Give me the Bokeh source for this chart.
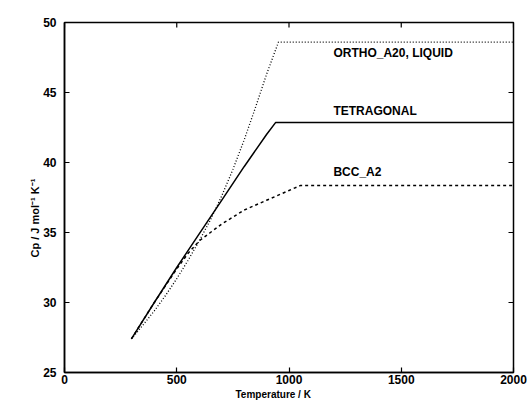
import math
from bokeh.plotting import figure
from bokeh.models import Range1d, FixedTicker, Title
from bokeh.embed import file_html
from bokeh.resources import INLINE

# Data (Temperature / K, Cp / J mol-1 K-1)
tetra_T = [298, 400, 500, 600, 700, 800, 900, 940, 2000]
tetra_cp = [27.4, 30.0, 32.5, 34.9, 37.3, 39.7, 42.0, 42.85, 42.85]

ortho_T = [298, 350, 400, 450, 500, 550, 600, 650, 700, 750, 800, 850, 900, 953, 2000]
ortho_cp = [27.4, 28.4, 29.4, 30.5, 31.7, 33.0, 34.4, 35.9, 37.6, 39.5, 41.6, 43.9, 46.3, 48.6, 48.6]

bcc_T = [298, 400, 500, 550, 600, 650, 700, 800, 900, 1000, 1050, 2000]
bcc_cp = [27.4, 30.0, 32.4, 33.5, 34.4, 35.0, 35.6, 36.6, 37.3, 38.0, 38.35, 38.35]

x_ticks = [0, 500, 1000, 1500, 2000]
y_ticks = [25, 30, 35, 40, 45, 50]

labels = ["ORTHO_A20, LIQUID", "TETRAGONAL", "BCC_A2"]
label_T = [1198, 1198, 1198]
label_cp = [47.8, 43.7, 39.3]

x_title = "Temperature / K"
y_title = "Cp / J mol\u207b\u00b9 K\u207b\u00b9"

FONT = "Liberation Sans"
x_min, x_max = 0, 2000
y_min, y_max = 25, 50

p = figure(width=527, height=408, output_backend="svg", toolbar_location=None,
           x_range=Range1d(x_min, x_max), y_range=Range1d(y_min, y_max),
           min_border_left=64, min_border_right=14, min_border_top=22, min_border_bottom=36)
p.background_fill_color = "white"
p.border_fill_color = "white"
p.xgrid.visible = False
p.ygrid.visible = False
p.outline_line_color = "black"
p.outline_line_width = 1.5

for ax in (p.xaxis[0], p.yaxis[0]):
    ax.axis_line_width = 1.5
    ax.major_tick_in = 5
    ax.major_tick_out = 0
    ax.minor_tick_line_color = None
    ax.major_tick_line_width = 1.2
    ax.major_label_text_font = FONT
    ax.major_label_text_font_style = "bold"
    ax.major_label_text_font_size = "12px"
    ax.major_label_text_color = "black"
p.xaxis[0].ticker = FixedTicker(ticks=x_ticks)
p.yaxis[0].ticker = FixedTicker(ticks=y_ticks)
p.xaxis[0].major_label_standoff = 2
p.yaxis[0].major_label_standoff = 8

# axis titles (placed off-centre as in the reference)
p.add_layout(Title(text=x_title, align="left", offset=171, standoff=0,
                   text_font=FONT, text_font_style="bold", text_font_size="10px",
                   text_color="black"), "below")
p.add_layout(Title(text=y_title, align="left", offset=115, standoff=0,
                   text_font=FONT, text_font_style="bold", text_font_size="11px",
                   text_color="black"), "left")

# inward ticks on the top and right edges of the frame
p.ray(x=x_ticks, y=[y_max] * len(x_ticks), length=5, length_units="screen",
      angle=-math.pi / 2, line_color="black", line_width=1.2)
p.ray(x=[x_max] * len(y_ticks), y=y_ticks, length=5, length_units="screen",
      angle=math.pi, line_color="black", line_width=1.2)

p.line(ortho_T, ortho_cp, line_color="black", line_width=1.3, line_dash="1 2")
p.line(tetra_T, tetra_cp, line_color="black", line_width=1.5)
p.line(bcc_T, bcc_cp, line_color="black", line_width=1.5, line_dash="3 3")

p.text(x=label_T, y=label_cp, text=labels, text_font={"value": FONT},
       text_font_style="bold", text_font_size="12px", text_baseline="middle",
       text_align="left", text_color="black")

open("out.html", "w").write(file_html(p, INLINE))
